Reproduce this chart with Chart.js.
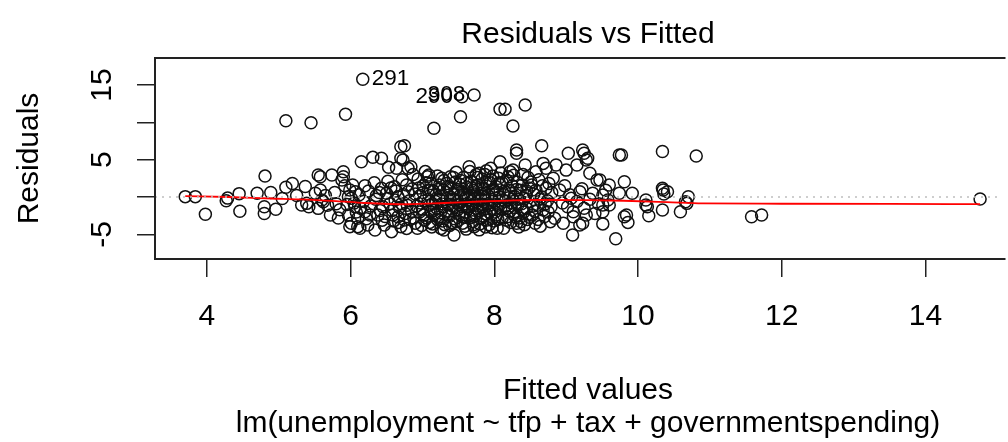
<!DOCTYPE html>
<html>
<head>
<meta charset="utf-8">
<script src="https://cdn.jsdelivr.net/npm/chart.js@4.4.1/dist/chart.umd.min.js"></script>
<style>
  html, body { margin: 0; padding: 0; background: #fff; overflow: hidden; }
  #wrap { width: 1008px; height: 442px; }
</style>
</head>
<body>
<div id="wrap"><canvas id="chart" width="1008" height="442"></canvas></div>
<script>
// fitted value, residual
const residPoints = [
  [3.70,0.05],[3.84,0.05],[3.98,-2.3],[4.27,-0.5],[4.29,-0.15],[4.45,0.45],[4.46,-1.9],[4.70,0.5],
  [4.80,-1.3],[4.80,-2.2],[4.96,-1.65],[4.89,0.6],[4.81,2.8],[5.10,1.3],[5.19,1.8],[5.37,1.4],
  [5.39,-0.85],[5.32,-1.07],[5.42,-1.3],[5.58,2.7],[5.55,2.95],[5.58,0.94],[5.62,-0.63],[5.55,-1.52],
  [5.51,0.5],[5.60,-0.4],[5.72,-2.4],[5.10,10.2],[5.45,9.95],[5.93,11.07],[6.17,15.76],[5.05,-0.2],[5.25,0.2],
  [5.74,2.95],[5.90,3.39],[5.88,2.28],[5.90,2.72],[5.97,0.04],[5.99,0.94],[6.01,-0.17],[6.06,-1.3],
  [5.97,-2.41],[5.99,-3.97],[6.01,-3.52],[6.10,-3.97],[6.13,-4.19],[6.10,-2.85],[6.20,-1.97],[6.15,4.73],
  [6.24,-3.75],[6.05,-0.8],[6.12,0.3],[6.18,-0.6],[6.08,-2.0],[6.22,-2.9],[6.25,0.8],[6.28,-1.2],
  [5.80,-0.9],[5.85,-1.7],[5.95,-1.0],
  [5.65,0.2],[5.68,-1.1],[5.78,0.6],[5.83,-2.8],[5.92,1.5],[6.03,1.6],[6.07,0.7],[6.14,-1.5],
  [6.20,1.5],[6.27,-2.4],
  [6.31,5.31],[6.43,5.18],[6.53,3.97],[6.64,3.84],[6.70,5.18],[6.70,6.73],[6.75,6.87],[6.80,3.84],
  [6.43,1.16],[6.50,0.5],[6.45,-1.3],[6.38,-2.41],[6.47,-3.75],[6.34,-4.42],[6.61,1.38],[6.66,0.04],
  [6.66,-2.64],[6.70,-3.97],[6.57,-4.64],[6.73,4.95],[6.84,4.06],[6.75,-3.08],[6.35,-0.3],[6.40,0.6],
  [6.55,-0.9],[6.58,-1.8],[6.62,-0.4],[6.68,-1.4],[6.72,2.3],[6.78,1.6],[6.80,0.7],[6.82,-0.5],
  [6.85,-1.9],[6.88,-2.8],[6.76,-2.2],[6.52,2.1],[6.48,-2.6],[6.33,1.9],[6.87,3.0],[6.90,-3.5],
  [6.78,-4.2],[6.60,-3.2],
  [6.52,-0.2],[6.56,1.2],[6.59,-2.4],[6.63,0.8],[6.67,-3.4],[6.71,-0.9],[6.74,0.3],[6.79,-1.1],
  [6.83,-3.0],[6.86,1.1],[6.41,-1.8],[6.44,-3.1],[6.36,0.2],
  [6.93,-4.19],[7.07,2.72],[7.09,2.95],[7.16,9.2],[7.30,-4.42],[7.39,2.72],[7.44,-5.09],[6.95,1.2],
  [6.97,0.2],[6.98,-0.8],[7.00,-1.6],[7.02,-2.4],[7.03,-3.1],[7.05,1.9],[7.08,-0.3],[7.10,-1.1],
  [7.12,-2.0],[7.14,-3.6],[7.15,0.8],[7.18,-0.6],[7.20,-1.5],[7.22,-2.7],[7.24,1.6],[7.25,0.1],
  [7.27,-0.9],[7.28,-3.2],[7.30,2.2],[7.32,-1.9],[7.33,0.6],[7.35,-0.2],[7.36,-2.4],[7.38,-3.8],
  [7.40,1.2],[7.42,-1.2],[7.44,0.3],[7.45,-2.9],[7.47,3.3],[7.48,-0.7],[7.49,-1.7],[7.04,3.4],
  [7.13,-4.0],[7.21,2.8],[7.26,-4.2],[7.34,1.8],[7.41,-3.4],[7.46,2.0],[7.01,0.6],[7.17,-2.3],
  [7.23,-0.3],[7.37,-1.0],[7.11,0.9],[7.29,0.9],[7.43,-0.3],
  [6.90,0.4],[6.92,-1.2],[6.94,2.4],[6.96,-2.0],[6.99,-3.8],[7.01,1.5],[7.03,-0.5],[7.06,-2.8],
  [7.08,0.9],[7.10,-3.4],[7.12,1.8],[7.14,-0.9],[7.16,-1.8],[7.19,0.3],[7.21,-3.0],[7.23,1.1],
  [7.25,-2.1],[7.27,2.5],[7.29,-1.3],[7.31,-3.7],[7.33,-0.6],[7.35,1.4],[7.37,-2.6],[7.39,0.0],
  [7.41,-1.6],[7.43,2.6],[7.45,-0.4],[7.47,-3.3],[7.49,1.0],
  [7.55,13.43],[7.72,13.65],[7.53,10.75],[7.65,4.06],[7.79,3.17],[7.95,3.84],[8.06,2.5],[8.08,4.73],
  [7.72,-3.97],[8.04,-4.19],[7.90,-3.08],[7.50,0.8],[7.51,-2.3],[7.52,1.7],[7.54,-0.1],[7.55,-1.3],
  [7.56,-3.5],[7.57,2.6],[7.58,0.4],[7.59,-0.9],[7.60,-2.0],[7.61,-4.3],[7.62,1.3],[7.63,-0.4],
  [7.64,-1.6],[7.66,-2.8],[7.67,0.2],[7.68,2.1],[7.69,-1.1],[7.70,-3.3],[7.71,0.9],[7.73,-0.2],
  [7.74,-2.2],[7.75,3.0],[7.76,-0.8],[7.77,1.6],[7.78,-1.8],[7.80,-3.6],[7.81,0.5],[7.82,-0.5],
  [7.83,2.4],[7.84,-1.3],[7.85,-2.6],[7.86,1.1],[7.87,-0.1],[7.88,-4.0],[7.89,3.5],[7.91,-0.9],
  [7.92,0.7],[7.93,-2.0],[7.94,1.9],[7.96,-0.3],[7.97,-1.5],[7.98,2.8],[7.99,-3.2],[8.00,0.3],
  [8.01,-0.7],[8.02,1.4],[8.03,-2.4],[8.05,-1.1],[8.07,0.0],[8.09,3.2],[7.58,-2.7],[7.66,3.4],
  [7.72,-2.6],[7.79,-4.4],[7.85,0.1],[7.93,-3.7],[7.61,0.0],[7.74,1.4],[7.88,2.0],[7.96,-2.3],
  [7.53,-0.6],[7.69,-0.5],[7.83,-1.0],[7.98,0.9],
  [7.51,-1.0],[7.53,2.2],[7.55,-2.6],[7.57,0.6],[7.59,-3.9],[7.61,1.8],[7.63,-1.2],[7.65,-0.1],
  [7.67,-2.4],[7.69,1.2],[7.71,-3.7],[7.73,0.4],[7.75,-1.5],[7.77,2.6],[7.79,-0.4],[7.81,-2.9],
  [7.83,1.2],[7.85,-1.7],[7.87,3.0],[7.89,-2.3],[7.91,0.2],[7.93,-1.1],[7.95,2.3],[7.97,-4.1],
  [7.99,1.0],[8.01,-2.0],[8.03,0.6],[8.05,-3.0],[8.07,1.9],[8.09,-1.6],
  [8.08,11.74],[8.15,11.74],[8.43,12.32],[8.26,9.5],[8.66,6.87],[8.31,6.29],[8.31,5.85],[8.68,4.5],
  [8.58,3.39],[8.72,3.84],[8.82,2.5],[8.43,4.28],[8.22,3.39],[8.52,1.6],[8.72,1.16],[8.57,-3.52],
  [8.84,-2.85],[8.18,-2.64],[8.31,-3.52],[8.13,-4.19],[8.68,-1.74],[8.45,-1.52],[8.11,1.9],[8.12,-0.4],
  [8.14,0.8],[8.16,-1.2],[8.17,-3.1],[8.19,2.7],[8.20,-0.1],[8.21,-1.9],[8.23,0.5],[8.24,-0.8],
  [8.25,1.5],[8.27,-2.3],[8.28,0.1],[8.29,-1.4],[8.32,2.0],[8.33,-0.3],[8.35,-2.8],[8.36,0.9],
  [8.38,-0.9],[8.40,3.0],[8.41,-2.0],[8.44,0.2],[8.46,-3.0],[8.48,1.2],[8.50,-0.6],[8.53,-2.4],
  [8.55,0.4],[8.60,-1.1],[8.62,2.3],[8.64,-3.9],[8.66,0.0],[8.70,-2.6],[8.74,-0.5],[8.76,1.8],
  [8.78,-3.3],[8.80,0.6],[8.34,-4.0],[8.42,-3.7],[8.26,3.6],[8.39,-1.6],[8.47,2.6],[8.56,-1.9],
  [8.11,-2.8],[8.13,0.3],[8.15,-0.6],[8.17,2.2],[8.19,-1.5],[8.21,0.9],[8.23,-3.4],[8.25,-0.3],
  [8.27,2.9],[8.29,-2.6],[8.31,1.0],[8.33,-1.0],[8.37,-3.3],[8.39,1.6],[8.42,-0.2],[8.45,0.8],
  [8.49,-2.7],[8.51,2.0],[8.54,-1.2],[8.58,0.9],[8.61,-3.0],[8.63,-0.3],[8.67,1.5],[8.71,-0.9],
  [8.75,-2.0],[8.79,-1.3],
  [8.91,0.94],[8.96,-3.52],[9.03,5.85],[9.00,3.6],[9.07,-0.17],[9.09,-5.09],[9.10,-1.97],[9.10,-2.64],
  [9.15,4.28],[9.19,0.71],[9.19,-3.75],[9.23,6.29],[9.25,5.85],[9.23,-3.52],[9.28,4.95],[9.30,5.18],
  [9.28,-2.41],[9.33,3.17],[9.37,0.5],[9.43,2.28],[9.47,2.28],[9.51,0.27],[9.51,-1.07],[9.51,-1.97],
  [9.51,-3.6],[9.58,-0.4],[9.60,1.6],[9.60,-1.07],[9.69,-5.6],[9.74,0.5],[9.74,5.62],[9.77,5.62],
  [9.81,2.05],[9.81,-2.64],[9.84,-2.41],[9.86,-3.4],[9.92,0.5],[8.86,4.28],[8.95,-0.8],[8.98,1.5],
  [9.02,-1.3],[9.05,0.3],[9.15,-0.6],[9.22,1.1],[9.25,-1.5],[9.33,-0.3],[9.40,-2.2],[9.45,-0.9],[9.55,0.9],
  [10.11,-1.07],[10.11,-0.4],[10.13,-1.3],[10.15,-2.52],[10.34,6.1],[10.34,1.16],[10.35,0.94],[10.36,0.4],
  [10.41,0.71],[10.34,-1.74],[10.59,-1.97],[10.68,-0.85],[10.66,-0.63],[10.70,0.04],[10.81,5.49],
  [11.58,-2.64],[11.72,-2.41],[14.76,-0.27]
];

// red smoother
const lowessX = [3.70, 4.30, 4.90, 5.30, 5.80, 6.20, 6.80, 7.30, 7.80, 8.20, 8.60, 9.30, 9.80, 10.40, 10.90, 12.00, 13.50, 14.76];
const lowessY = [0.13, 0.00, -0.20, -0.31, -0.55, -0.80, -0.97, -0.80, -0.60, -0.48, -0.40, -0.42, -0.50, -0.68, -0.85, -0.90, -0.93, -0.95];

const xTicks = [4, 6, 8, 10, 12, 14];
const yTicks = [-5, 0, 5, 10, 15];
const yTickLabels = ['-5', '', '5', '', '15'];

// labelled observations: id, fitted, residual, side
const idLabels = [
  { id: '291', x: 6.17, y: 15.76, side: 'right' },
  { id: '290', x: 7.55, y: 13.43, side: 'left' },
  { id: '308', x: 7.72, y: 13.65, side: 'left' }
];

const FONT = '"Liberation Sans", Arial, Helvetica, sans-serif';

const decor = {
  id: 'decor',
  afterDatasetsDraw(chart) {
    const { ctx, chartArea: a, scales: { x, y } } = chart;
    ctx.save();

    // dotted zero line
    ctx.strokeStyle = '#bebebe';
    ctx.lineWidth = 1.5;
    ctx.setLineDash([2, 5]);
    ctx.beginPath();
    ctx.moveTo(a.left, y.getPixelForValue(0));
    ctx.lineTo(a.right, y.getPixelForValue(0));
    ctx.stroke();
    ctx.setLineDash([]);

    // box (right side falls outside the picture)
    ctx.strokeStyle = '#222';
    ctx.lineWidth = 2;
    ctx.beginPath();
    ctx.moveTo(a.right + 5, a.top);
    ctx.lineTo(a.left, a.top);
    ctx.lineTo(a.left, a.bottom);
    ctx.lineTo(a.right + 5, a.bottom);
    ctx.stroke();

    ctx.fillStyle = '#000';

    // x tick labels
    ctx.font = '30px ' + FONT;
    ctx.textAlign = 'center';
    ctx.textBaseline = 'alphabetic';
    xTicks.forEach(v => ctx.fillText(String(v), x.getPixelForValue(v), 325));

    // y tick labels, rotated
    yTicks.forEach((v, i) => {
      if (!yTickLabels[i]) return;
      ctx.save();
      ctx.translate(111, y.getPixelForValue(v));
      ctx.rotate(-Math.PI / 2);
      ctx.fillText(yTickLabels[i], 0, 0);
      ctx.restore();
    });

    // titles
    const cx = 588;
    ctx.fillText('Residuals vs Fitted', cx, 43);
    ctx.fillText('Fitted values', cx, 399);
    ctx.fillText('lm(unemployment ~ tfp + tax + governmentspending)', cx, 432);
    ctx.save();
    ctx.translate(38, (a.top + a.bottom) / 2);
    ctx.rotate(-Math.PI / 2);
    ctx.fillText('Residuals', 0, 0);
    ctx.restore();

    // id labels
    ctx.font = '22.5px ' + FONT;
    ctx.textBaseline = 'middle';
    idLabels.forEach(l => {
      const px = x.getPixelForValue(l.x);
      const py = y.getPixelForValue(l.y);
      ctx.textAlign = l.side === 'right' ? 'left' : 'right';
      ctx.fillText(l.id, l.side === 'right' ? px + 9 : px - 9, py);
    });

    ctx.restore();
  }
};

const ctx = document.getElementById('chart').getContext('2d');

new Chart(ctx, {
  type: 'scatter',
  data: {
    datasets: [
      {
        data: residPoints.map(([fx, r]) => ({ x: fx, y: r })),
        pointStyle: 'circle',
        pointRadius: 6,
        pointBorderWidth: 1.5,
        pointBorderColor: '#111',
        pointBackgroundColor: 'rgba(0,0,0,0)',
        order: 2
      },
      {
        data: lowessX.map((fx, i) => ({ x: fx, y: lowessY[i] })),
        showLine: true,
        borderColor: '#ff0000',
        borderWidth: 1.8,
        pointRadius: 0,
        cubicInterpolationMode: 'monotone',
        order: 1
      }
    ]
  },
  options: {
    responsive: false,
    animation: false,
    events: [],
    layout: { padding: { top: 58, left: 0, right: 0, bottom: 0 } },
    plugins: { legend: { display: false }, tooltip: { enabled: false } },
    scales: {
      x: {
        type: 'linear',
        min: 3.279,
        max: 15.044,
        afterBuildTicks: s => { s.ticks = xTicks.map(v => ({ value: v })); },
        afterFit: s => { s.height = 183; },
        ticks: { display: false },
        border: { display: false },
        grid: { drawOnChartArea: false, drawTicks: true, tickLength: 18, color: '#222', lineWidth: 1.5 }
      },
      y: {
        type: 'linear',
        min: -8.30,
        max: 18.61,
        afterBuildTicks: s => { s.ticks = yTicks.map(v => ({ value: v })); },
        afterFit: s => { s.width = 155; },
        ticks: { display: false },
        border: { display: false },
        grid: { drawOnChartArea: false, drawTicks: true, tickLength: 18, color: '#222', lineWidth: 1.5 }
      }
    }
  },
  plugins: [decor]
});
</script>
</body>
</html>
